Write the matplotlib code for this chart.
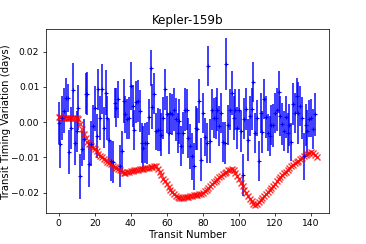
import matplotlib
matplotlib.use("Agg")
import matplotlib.pyplot as plt

# observed transit timing variations (days)
ttv = [-0.0002, -0.0062, 0.0012, 0.0033, 0.0069, 0.0068, -0.0084, -0.0016, 0.0091, -0.0059,
       -0.0026, 0.0041, -0.0154, -0.0075, -0.0049, 0.0081, 0.0081, -0.0120, -0.0061, -0.0010,
       0.0039, -0.0040, 0.0093, 0.0012, 0.0093, -0.0016, 0.0084, 0.0012, -0.0050, -0.0111,
       -0.0113, 0.0055, 0.0041, 0.0065, -0.0125, -0.0083, 0.0060, 0.0022, 0.0009, 0.0012,
       0.0103, 0.0045, -0.0021, 0.0057, 0.0061, 0.0031, -0.0059, -0.0073, -0.0059, -0.0059,
       0.0015, 0.0154, 0.0044, 0.0081, -0.0026, -0.0021, -0.0023, -0.0035, 0.0012, 0.0093,
       0.0022, -0.0032, 0.0027, 0.0022, 0.0036, 0.0008, -0.0030, 0.0003, -0.0068, -0.0030,
       0.0036, 0.0036, -0.0044, -0.0068, -0.0097, -0.0125, -0.0016, -0.0019, 0.0060, -0.0106,
       0.0026, -0.0042, -0.0059, 0.0159, -0.0054, 0.0036, 0.0012, 0.0012, 0.0036, -0.0011,
       0.0026, -0.0057, -0.0059, 0.0166, -0.0007, 0.0036, 0.0083, 0.0012, 0.0036, -0.0016,
       0.0036, -0.0026, -0.0150, 0.0010, 0.0038, -0.0051, 0.0017, 0.0038, 0.0114, -0.0030,
       0.0012, -0.0111, 0.0026, -0.0028, 0.0065, 0.0015, -0.0030, -0.0040, -0.0007, -0.0009,
       0.0026, 0.0036, 0.0086, 0.0017, -0.0005, -0.0026, 0.0015, -0.0030, -0.0007, -0.0056,
       0.0052, 0.0026, 0.0074, 0.0026, 0.0045, 0.0012, -0.0097, -0.0007, -0.0026, 0.0010,
       0.0012, -0.0020, 0.0022]

ttv_err = [0.0059, 0.0067, 0.0062, 0.0064, 0.0056, 0.0040, 0.0063, 0.0060, 0.0077, 0.0062,
           0.0058, 0.0064, 0.0064, 0.0050, 0.0057, 0.0059, 0.0061, 0.0064, 0.0064, 0.0060,
           0.0063, 0.0062, 0.0059, 0.0062, 0.0071, 0.0058, 0.0064, 0.0062, 0.0060, 0.0057,
           0.0060, 0.0043, 0.0055, 0.0052, 0.0059, 0.0059, 0.0062, 0.0052, 0.0057, 0.0060,
           0.0067, 0.0060, 0.0057, 0.0059, 0.0060, 0.0060, 0.0057, 0.0062, 0.0057, 0.0060,
           0.0052, 0.0052, 0.0064, 0.0059, 0.0052, 0.0060, 0.0060, 0.0062, 0.0060, 0.0059,
           0.0052, 0.0057, 0.0057, 0.0057, 0.0060, 0.0060, 0.0057, 0.0064, 0.0057, 0.0060,
           0.0062, 0.0057, 0.0057, 0.0064, 0.0067, 0.0067, 0.0062, 0.0060, 0.0062, 0.0060,
           0.0057, 0.0054, 0.0057, 0.0057, 0.0062, 0.0057, 0.0057, 0.0060, 0.0060, 0.0057,
           0.0057, 0.0057, 0.0060, 0.0074, 0.0057, 0.0057, 0.0062, 0.0062, 0.0059, 0.0060,
           0.0057, 0.0059, 0.0060, 0.0059, 0.0059, 0.0059, 0.0057, 0.0060, 0.0057, 0.0057,
           0.0052, 0.0057, 0.0057, 0.0059, 0.0057, 0.0059, 0.0052, 0.0057, 0.0057, 0.0060,
           0.0057, 0.0060, 0.0059, 0.0057, 0.0060, 0.0057, 0.0060, 0.0057, 0.0060, 0.0054,
           0.0059, 0.0057, 0.0052, 0.0087, 0.0057, 0.0060, 0.0067, 0.0060, 0.0060, 0.0052,
           0.0055, 0.0057, 0.0062]

transit = list(range(len(ttv)))

# model prediction
model = [0.0014, 0.0014, 0.0013, 0.0013, 0.0013, 0.0013, 0.0013, 0.0013, 0.0013, 0.0012,
         0.0012, 0.0008, -0.0005, -0.0020, -0.0033, -0.0045, -0.0055, -0.0063, -0.0068, -0.0072,
         -0.0077, -0.0083, -0.0090, -0.0096, -0.0100, -0.0104, -0.0108, -0.0112, -0.0116, -0.0120,
         -0.0124, -0.0127, -0.0130, -0.0134, -0.0137, -0.0141, -0.0144, -0.0143, -0.0142, -0.0140,
         -0.0139, -0.0138, -0.0137, -0.0136, -0.0135, -0.0134, -0.0133, -0.0132, -0.0131, -0.0130,
         -0.0129, -0.0128, -0.0127, -0.0125, -0.0125, -0.0133, -0.0142, -0.0151, -0.0160, -0.0168,
         -0.0176, -0.0184, -0.0191, -0.0198, -0.0204, -0.0209, -0.0213, -0.0215, -0.0215, -0.0214,
         -0.0213, -0.0212, -0.0211, -0.0210, -0.0209, -0.0208, -0.0207, -0.0206, -0.0205, -0.0203,
         -0.0201, -0.0196, -0.0191, -0.0186, -0.0181, -0.0176, -0.0171, -0.0166, -0.0161, -0.0156,
         -0.0152, -0.0148, -0.0144, -0.0140, -0.0137, -0.0135, -0.0134, -0.0136, -0.0144, -0.0153,
         -0.0162, -0.0172, -0.0182, -0.0192, -0.0201, -0.0210, -0.0218, -0.0225, -0.0231, -0.0234,
         -0.0232, -0.0227, -0.0222, -0.0216, -0.0210, -0.0204, -0.0198, -0.0192, -0.0186, -0.0180,
         -0.0174, -0.0168, -0.0162, -0.0156, -0.0150, -0.0145, -0.0140, -0.0135, -0.0130, -0.0125,
         -0.0121, -0.0117, -0.0113, -0.0109, -0.0105, -0.0101, -0.0097, -0.0093, -0.0089, -0.0086,
         -0.0085, -0.0088, -0.0093, -0.0098]
model_n = list(range(len(model)))

# 366x244 px canvas
DPI = 66
fig = plt.figure(figsize=(366 / DPI, 244 / DPI), dpi=DPI)
plt.subplots_adjust(left=0.125, right=0.9, top=0.88, bottom=0.127)

plt.errorbar(transit, ttv, yerr=ttv_err, fmt='b+', ecolor=(0, 0, 1, 0.8),
             elinewidth=2, markersize=5, markeredgewidth=1.2)
plt.plot(model_n, model, 'rx', alpha=0.8, markersize=7, markeredgewidth=1.5)

plt.title("Kepler-159b", fontsize=13)
plt.xlabel("Transit Number", fontsize=11, labelpad=2)
plt.ylabel("Transit Timing Variation (days)", fontsize=11, labelpad=0.5)

plt.savefig("out.png", dpi=DPI)
